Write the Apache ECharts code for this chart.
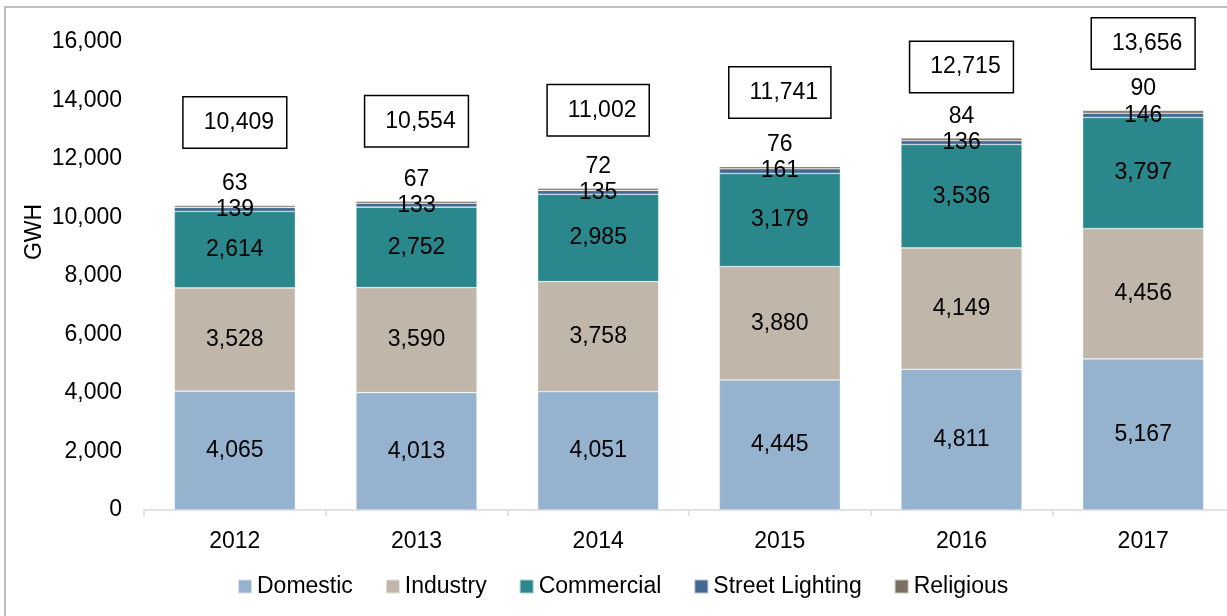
<!DOCTYPE html>
<html>
<head>
<meta charset="utf-8">
<title>Electricity consumption by sector</title>
<script src="https://cdn.jsdelivr.net/npm/echarts@6/dist/echarts.min.js"></script>
<style>
  html, body { margin: 0; padding: 0; background: #fff; }
  #chart { width: 1227px; height: 616px; }
</style>
</head>
<body>
<div id="chart"></div>
<script>
// Annual electricity consumption (GWH) by customer sector
const years = ['2012', '2013', '2014', '2015', '2016', '2017'];
const domestic = [4065, 4013, 4051, 4445, 4811, 5167];
const industry = [3528, 3590, 3758, 3880, 4149, 4456];
const commercial = [2614, 2752, 2985, 3179, 3536, 3797];
const streetLighting = [139, 133, 135, 161, 136, 146];
const religious = [63, 67, 72, 76, 84, 90];
const totals = [10409, 10554, 11002, 11741, 12715, 13656];
const yTicks = [0, 2000, 4000, 6000, 8000, 10000, 12000, 14000, 16000];

// vertical gap (px) between each bar top and its boxed total
const totalBoxGap = [58, 55, 53, 49, 46, 42];

const FONT = '"Liberation Sans", Arial, sans-serif';
const FS = 23;
const fmt = v => Number(v).toLocaleString('en-US');

const colors = {
  Domestic: '#95B3CF',
  Industry: '#C0B6A9',
  Commercial: '#2A878B',
  'Street Lighting': '#456A91',
  Religious: '#7B705F'
};

function stackSeries(name, data, label) {
  return {
    name: name,
    type: 'bar',
    stack: 'total',
    barWidth: 121,
    data: data,
    itemStyle: { color: colors[name], borderColor: 'rgba(255,255,255,0.6)', borderWidth: 0.6 },
    label: Object.assign({
      show: true,
      color: '#000',
      fontFamily: FONT,
      fontSize: FS,
      formatter: p => fmt(p.value)
    }, label),
    emphasis: { disabled: true }
  };
}

const chart = echarts.init(document.getElementById('chart'), null, { renderer: 'canvas' });

chart.setOption({
  animation: false,
  backgroundColor: '#fff',
  grid: { left: 144, width: 1090, top: 42, bottom: 106, containLabel: false, outerBoundsMode: 'none' },
  legend: {
    left: 232,
    top: 570,
    itemWidth: 14,
    itemHeight: 14,
    itemGap: 32,
    icon: 'rect',
    textStyle: { color: '#000', fontFamily: FONT, fontSize: FS },
    data: ['Domestic', 'Industry', 'Commercial', 'Street Lighting', 'Religious']
  },
  xAxis: {
    type: 'category',
    data: years,
    boundaryGap: true,
    axisLine: { lineStyle: { color: '#D9D9D9', width: 1.5 } },
    axisTick: { show: true, length: 6, alignWithLabel: false, lineStyle: { color: '#D9D9D9', width: 1.5 } },
    axisLabel: { color: '#000', fontFamily: FONT, fontSize: FS, margin: 20 }
  },
  yAxis: {
    type: 'value',
    min: yTicks[0],
    max: yTicks[yTicks.length - 1],
    interval: yTicks[1] - yTicks[0],
    splitLine: { show: false },
    axisLine: { show: false },
    axisTick: { show: false },
    axisLabel: { color: '#000', fontFamily: FONT, fontSize: FS, margin: 22, formatter: v => fmt(v) }
  },
  series: [
    stackSeries('Domestic', domestic, { position: 'inside' }),
    stackSeries('Industry', industry, { position: 'inside' }),
    stackSeries('Commercial', commercial, { position: 'inside' }),
    stackSeries('Street Lighting', streetLighting, { position: 'inside' }),
    stackSeries('Religious', religious, { position: 'top', distance: 10 }),
    {
      name: 'Total',
      type: 'scatter',
      symbolSize: 0,
      silent: true,
      itemStyle: { opacity: 1, color: '#000' },
      data: totals.map((v, i) => ({
        value: v,
        label: { distance: totalBoxGap[i] }
      })),
      label: {
        show: true,
        position: 'top',
        color: '#000',
        opacity: 1,
        fontFamily: FONT,
        fontSize: FS,
        lineHeight: 26,
        padding: [12, 12, 12, 20],
        borderColor: '#000',
        borderWidth: 1.5,
        backgroundColor: '#fff',
        formatter: p => fmt(p.value)
      },
      z: 5
    }
  ],
  graphic: [
    {
      type: 'text',
      x: 35,
      y: 232,
      rotation: Math.PI / 2,
      style: {
        text: 'GWH',
        fill: '#000',
        font: FS + 'px ' + FONT,
        textAlign: 'center',
        textVerticalAlign: 'middle'
      }
    },
    {
      type: 'polyline',
      shape: { points: [[5, 616], [5, 7], [1227, 7]] },
      style: { stroke: '#BFBFBF', lineWidth: 2, fill: null },
      silent: true
    }
  ]
});
</script>
</body>
</html>
